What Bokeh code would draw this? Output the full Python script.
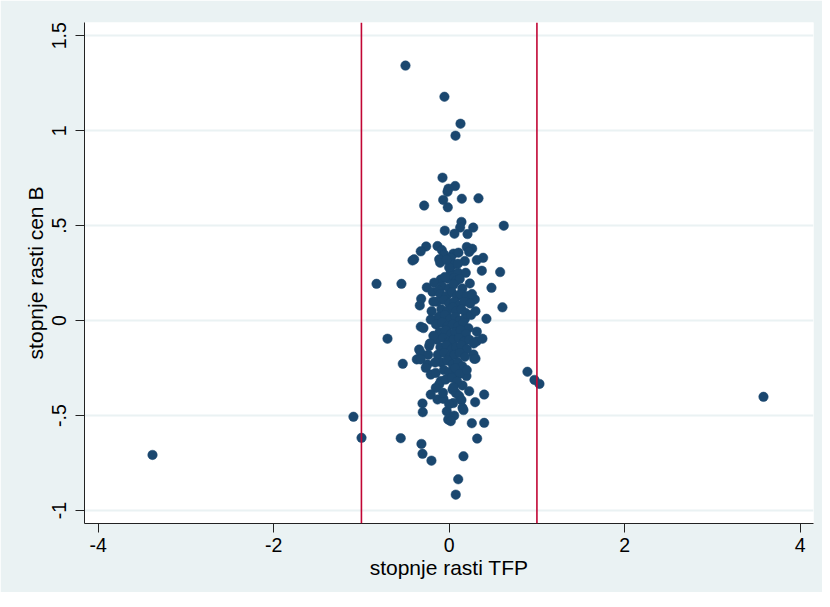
from bokeh.plotting import figure
from bokeh.models import Range1d, FixedTicker, Span, CustomJSTickFormatter, ColumnDataSource
from bokeh.embed import file_html
from bokeh.resources import INLINE

# ---- data ----
tfp_outer = [-0.498, -0.054, 0.129, 0.072, -0.076, 0.068, -0.008, -0.019, 0.144, 0.334,
             -0.068, -0.285, -0.016, 0.622, 0.140, 0.125, 0.274, -0.050, 0.060, 0.209,
             -0.262, -0.133, -0.324, -0.399, -0.418, 0.201, 0.262, 0.228, -0.084, 0.049,
             0.106, -0.057, 0.018, -0.114, 0.387, 0.315, 0.178, -0.103, 0.057, 0.372,
             0.581, 0.018, 0.103, 0.189, -0.544, -0.828, 0.235, -0.096, -0.019, 0.057,
             -0.171, -0.255, -0.190, 0.482, -0.319, -0.335, 0.607, 0.292, 0.425, -0.210,
             -0.703, -0.324, -0.293, 0.315, 0.379, 0.315, -0.529, -0.342, -0.324, -0.239,
             -0.369, -0.324, -0.228, 0.277, 0.285, -0.247, -0.267, -0.210, -0.153, 0.197,
             0.095, 0.114, -0.096, -0.114, -0.153, 0.152, 0.228, 0.399, -0.210, -0.133,
             -0.065, 0.038, 0.075, 0.114, 0.140, 0.296, -0.304, -0.301, 0.046, 0.152,
             0.163, -0.027, 0.057, -0.011, 0.018, 0.258, 0.399, -0.552, 0.319, -0.316,
             -0.304, -0.202, 0.163, 0.103, 0.075, 0.892, 0.972, 1.029, 3.582, -3.381,
             -1.091, -0.999]
cen_outer = [1.343, 1.179, 1.037, 0.974, 0.753, 0.709, 0.695, 0.679, 0.642, 0.644,
             0.636, 0.606, 0.597, 0.500, 0.520, 0.490, 0.490, 0.474, 0.458, 0.456,
             0.391, 0.393, 0.365, 0.323, 0.317, 0.388, 0.379, 0.362, 0.372, 0.353,
             0.358, 0.349, 0.331, 0.323, 0.331, 0.319, 0.314, 0.305, 0.296, 0.263,
             0.256, 0.256, 0.252, 0.252, 0.194, 0.194, 0.196, 0.217, 0.221, 0.226,
             0.200, 0.175, 0.151, 0.173, 0.115, 0.080, 0.070, 0.112, 0.010, 0.006,
             -0.095, -0.032, -0.039, -0.058, -0.095, -0.108, -0.227, -0.152, -0.169, -0.180,
             -0.204, -0.204, -0.134, -0.178, -0.201, -0.231, -0.248, -0.284, -0.275, -0.292,
             -0.275, -0.257, -0.318, -0.336, -0.354, -0.341, -0.371, -0.389, -0.389, -0.415,
             -0.412, -0.363, -0.380, -0.397, -0.418, -0.429, -0.436, -0.482, -0.434, -0.459,
             -0.471, -0.478, -0.500, -0.521, -0.529, -0.540, -0.538, -0.619, -0.621, -0.649,
             -0.701, -0.737, -0.714, -0.835, -0.916, -0.269, -0.312, -0.333, -0.401, -0.707,
             -0.506, -0.617]

tfp_core = [-0.05, 0.08, 0.12, -0.08, 0.00, 0.05, 0.15, -0.12, -0.10, -0.03,
            0.03, 0.09, 0.13, 0.20, -0.14, -0.06, 0.00, 0.06, 0.11, 0.17,
            0.24, -0.09, -0.02, 0.04, 0.08, 0.14, 0.19, -0.12, -0.05, 0.01,
            0.07, 0.12, 0.18, 0.25, -0.15, -0.08, -0.02, 0.04, 0.10, 0.16,
            0.22, -0.11, -0.04, 0.02, 0.07, 0.13, 0.19, -0.14, -0.07, 0.00,
            0.05, 0.11, 0.17, 0.23, -0.10, -0.03, 0.03, 0.08, 0.14, 0.20,
            -0.13, -0.06, 0.01, 0.06, 0.12, 0.18, -0.09, -0.02, 0.04, 0.10,
            0.15, -0.06, 0.00, 0.07, 0.12, -0.04, 0.03, 0.09, -0.18, -0.20,
            0.28, 0.26, -0.16, 0.20, 0.00, -0.03, 0.10, -0.18, 0.30, 0.30,
            -0.22, 0.05, -0.07, 0.00]
cen_core = [0.23, 0.21, 0.22, 0.18, 0.17, 0.19, 0.17, 0.16, 0.14, 0.13,
            0.15, 0.13, 0.14, 0.13, 0.10, 0.11, 0.09, 0.10, 0.08, 0.10,
            0.09, 0.06, 0.05, 0.07, 0.05, 0.06, 0.04, 0.02, 0.03, 0.01,
            0.02, 0.00, 0.01, 0.03, -0.02, -0.01, -0.03, -0.02, -0.03, -0.01,
            -0.04, -0.06, -0.05, -0.07, -0.06, -0.05, -0.07, -0.10, -0.09, -0.11,
            -0.10, -0.09, -0.11, -0.10, -0.14, -0.13, -0.15, -0.14, -0.13, -0.15,
            -0.18, -0.17, -0.19, -0.18, -0.17, -0.19, -0.22, -0.21, -0.23, -0.22,
            -0.24, -0.26, -0.27, -0.25, -0.28, -0.31, -0.30, -0.32, -0.08, 0.05,
            -0.12, 0.14, -0.22, -0.26, 0.28, 0.32, 0.30, 0.10, 0.05, -0.20,
            -0.12, -0.35, -0.38, -0.44]

ref_lines = [-1, 1]
x_ticks = [-4, -2, 0, 2, 4]
x_tick_labels = ["-4", "-2", "0", "2", "4"]
y_ticks = [-1, -0.5, 0, 0.5, 1, 1.5]
y_tick_labels = ["-1", "-.5", "0", ".5", "1", "1.5"]
x_title = "stopnje rasti TFP"
y_title = "stopnje rasti cen B"

# ---- styling ----
BG = "#EAF2F3"
NAVY = "#1A476F"
RED = "#C10534"
FONT = "Liberation Sans"

p = figure(width=822, height=592, output_backend="svg", toolbar_location=None,
           x_range=Range1d(-4.156, 4.152), y_range=Range1d(-1.068, 1.570),
           min_border_left=84, min_border_right=9, min_border_top=22, min_border_bottom=69)
p.background_fill_color = "white"
p.border_fill_color = BG
p.outline_line_color = None

p.xgrid.grid_line_color = None
p.ygrid.grid_line_color = BG
p.ygrid.grid_line_width = 2

fmt_code = """
const i = tvals.findIndex(t => Math.abs(t - tick) < 1e-9);
return i >= 0 ? tlabs[i] : String(tick);
"""
p.xaxis.ticker = FixedTicker(ticks=x_ticks)
p.xaxis.formatter = CustomJSTickFormatter(args=dict(tvals=x_ticks, tlabs=x_tick_labels), code=fmt_code)
p.yaxis.ticker = FixedTicker(ticks=y_ticks)
p.yaxis.formatter = CustomJSTickFormatter(args=dict(tvals=y_ticks, tlabs=y_tick_labels), code=fmt_code)
p.ygrid.ticker = FixedTicker(ticks=y_ticks)

for ax in (p.xaxis[0], p.yaxis[0]):
    ax.axis_line_color = "#222222"
    ax.axis_line_width = 1
    ax.major_tick_line_color = "#222222"
    ax.major_tick_out = 9
    ax.major_tick_in = 0
    ax.minor_tick_line_color = None
    ax.major_label_text_font = FONT
    ax.major_label_text_font_size = "19.5px"
    ax.major_label_text_color = "black"
    ax.axis_label_text_font = FONT
    ax.axis_label_text_font_size = "21px"
    ax.axis_label_text_font_style = "normal"
    ax.axis_label_text_color = "black"

p.xaxis.axis_label = x_title
p.yaxis.axis_label = y_title
p.xaxis.major_label_standoff = 5
p.xaxis.axis_label_standoff = 1
p.yaxis.major_label_standoff = 9
p.yaxis.axis_label_standoff = 3
p.yaxis.major_label_orientation = "vertical"

for xv in ref_lines:
    p.add_layout(Span(location=xv, dimension="height", line_color=RED, line_width=1.6))

src = ColumnDataSource(dict(x=tfp_outer + tfp_core, y=cen_outer + cen_core))
p.scatter("x", "y", source=src, size=9.5, fill_color=NAVY, line_color=NAVY, line_width=0.5)

open("out.html", "w").write(file_html(p, INLINE))
